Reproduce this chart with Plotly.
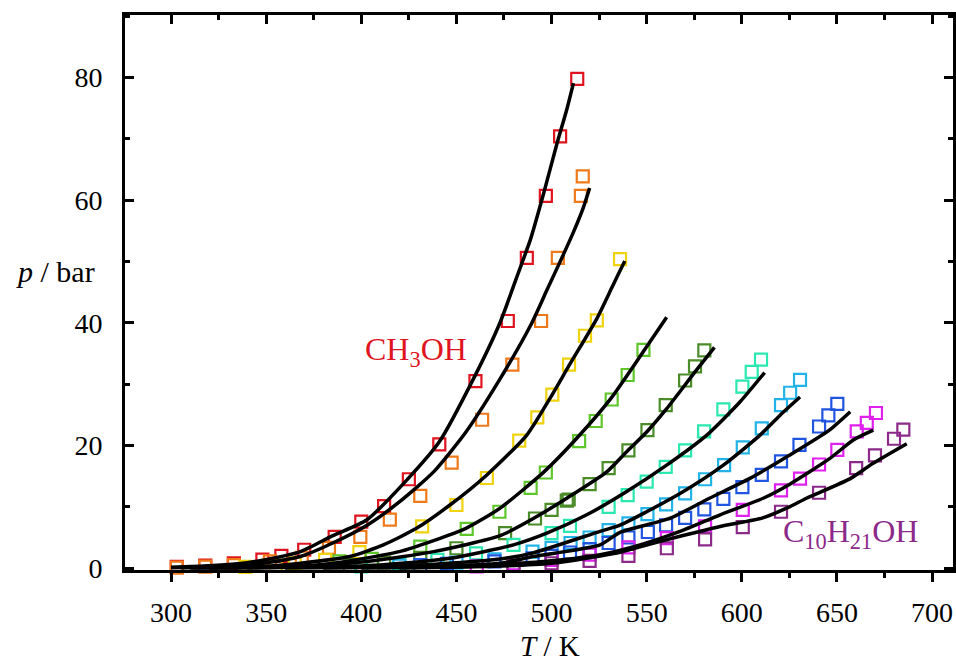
import plotly.graph_objects as go

# ---------------- data ----------------
names = ["CH3OH", "C2H5OH", "C3H7OH", "C4H9OH", "C5H11OH",
         "C6H13OH", "C7H15OH", "C8H17OH", "C9H19OH", "C10H21OH"]
colors = ["#e0141e", "#ee7a1a", "#f0d20f", "#5ec62a", "#4a8c28",
          "#2ae8b0", "#22b4e8", "#1f55e0", "#e020ec", "#8c2a8a"]

# experimental points
T_exp_1 = [303, 318, 333, 348, 358, 370, 386, 400, 412, 425, 441, 460, 477, 487, 497, 504.5, 513.5]
p_exp_1 = [0.2, 0.4, 0.8, 1.4, 2.0, 3.0, 5.1, 7.6, 10.1, 14.5, 20.2, 30.5, 40.3, 50.6, 60.7, 70.4, 79.8]
T_exp_2 = [303, 318, 333, 352, 368.7, 383, 399.5, 415, 431, 447.5, 463.5, 479.4, 494.5, 503.3, 515.4, 516.4]
p_exp_2 = [0.1, 0.25, 0.5, 1.1, 1.7, 3.3, 5.1, 7.9, 11.8, 17.2, 24.2, 33.2, 40.3, 50.6, 60.7, 63.9]
T_exp_3 = [339, 355, 365, 381, 399, 432, 450, 466, 483, 492.5, 500.4, 509.2, 517.6, 523.8, 536]
p_exp_3 = [0.2, 0.45, 0.8, 1.35, 2.6, 6.8, 10.3, 14.7, 20.8, 24.6, 28.3, 33.2, 37.9, 40.4, 50.4]
T_exp_4 = [388.5, 405.5, 431, 455.4, 472.6, 489, 497, 514.5, 523.2, 531.6, 540, 548.3]
p_exp_4 = [1.1, 1.5, 3.5, 6.4, 9.2, 13.1, 15.6, 20.7, 24.0, 27.5, 31.5, 35.6]
T_exp_5 = [394, 412, 431, 450, 475.6, 491.3, 500, 508, 509, 520, 530, 540.4, 550.4, 560, 570.2, 575.4, 580.3]
p_exp_5 = [0.5, 0.9, 1.7, 3.25, 5.7, 8.1, 9.5, 11.0, 11.2, 13.7, 16.3, 19.2, 22.5, 26.6, 30.6, 32.9, 35.5]
T_exp_6 = [400, 420, 440, 460.3, 480, 500, 509.7, 530, 540, 550, 560, 570.2, 580.2, 590.3, 600.3, 605.2, 610.1]
p_exp_6 = [0.3, 0.65, 1.35, 2.4, 3.8, 5.7, 6.9, 10.0, 11.9, 14.1, 16.5, 19.2, 22.3, 25.9, 29.6, 32.0, 34.0]
T_exp_7 = [420, 450, 470, 490, 500, 510, 520, 530, 540.4, 550.4, 560.2, 570.2, 580.7, 590.7, 600.5, 610.5, 620.6, 625.4, 630.6]
p_exp_7 = [0.4, 0.9, 1.45, 2.7, 3.3, 4.1, 5.0, 6.2, 7.3, 8.8, 10.4, 12.2, 14.5, 16.8, 19.7, 22.8, 26.6, 28.6, 30.7]
T_exp_8 = [431, 445, 470, 490, 500, 509.7, 520, 530, 540.4, 550.6, 560.2, 570.2, 580.3, 590.3, 600.3, 610.5, 620.6, 630.3, 640.6, 645.5, 650.2]
p_exp_8 = [0.5, 0.7, 1.1, 1.6, 2.0, 2.55, 3.1, 4.1, 5.0, 5.9, 7.0, 8.2, 9.6, 11.3, 13.2, 15.2, 17.4, 20.1, 23.1, 24.9, 26.8]
T_exp_9 = [460.7, 480, 500, 520, 540.4, 560.6, 580.7, 600.5, 620.6, 630.6, 640.6, 650.2, 660.4, 665.7, 670.5]
p_exp_9 = [0.3, 0.8, 1.35, 2.2, 3.4, 4.9, 6.8, 9.5, 12.7, 14.6, 16.9, 19.3, 22.3, 23.7, 25.3]
T_exp_10 = [480, 500, 520, 540.4, 560.6, 580.7, 600.5, 620.6, 640.6, 660.1, 670, 680, 684.9]
p_exp_10 = [0.4, 0.8, 1.2, 2.0, 3.25, 4.7, 6.7, 9.2, 12.3, 16.3, 18.4, 21.1, 22.6]

# model curves (black lines)
T_mod_1 = [300, 320, 340, 355, 368, 385, 403, 424, 441, 459, 473, 482, 489, 496, 503, 508, 511.5]
p_mod_1 = [0.15, 0.4, 0.9, 1.7, 2.7, 5.3, 7.9, 14.4, 20.6, 30.9, 40.1, 47.7, 53.7, 61.3, 69.4, 74.8, 79.1]
T_mod_2 = [300, 330, 350, 368, 385, 403, 420, 438, 455, 473, 489, 497.5, 506, 511.5, 516.7, 520]
p_mod_2 = [0.08, 0.4, 0.9, 1.9, 4.1, 7.0, 10.8, 15.7, 22.2, 30.9, 39.6, 45.3, 51.0, 54.8, 58.8, 62.0]
T_mod_3 = [305, 330, 350, 368, 394, 411.6, 429, 446.6, 466, 487, 499, 509.7, 523.8, 531, 535, 538.5]
p_mod_3 = [0.05, 0.1, 0.3, 0.8, 1.9, 3.8, 6.5, 10.3, 15.2, 21.7, 27.6, 33.3, 40.7, 45.3, 47.9, 50.1]
T_mod_4 = [310, 360, 385, 420, 455, 473, 496, 513, 531, 548, 560.5]
p_mod_4 = [0.03, 0.2, 0.8, 2.7, 6.5, 9.8, 15.7, 21.1, 27.6, 35.2, 40.9]
T_mod_5 = [320, 370, 403, 438, 473, 490.4, 508, 529, 539.5, 550, 560.5, 575.4, 585.6]
p_mod_5 = [0.03, 0.3, 1.1, 2.7, 5.3, 8.1, 11.4, 15.7, 19.0, 22.2, 26.0, 32.0, 36.0]
T_mod_6 = [340, 395, 411.6, 446.6, 480, 497.5, 518.5, 539.5, 560.5, 581.6, 599, 612]
p_mod_6 = [0.03, 0.3, 0.55, 1.6, 3.8, 5.7, 8.7, 12.5, 16.8, 21.7, 27.1, 31.9]
T_mod_7 = [360, 420, 473, 490.4, 525.5, 536, 550, 569.3, 590.3, 609.6, 620, 630.6]
p_mod_7 = [0.03, 0.3, 1.5, 2.5, 6.0, 7.0, 9.2, 12.5, 16.8, 21.7, 24.9, 27.9]
T_mod_8 = [380, 440, 473, 490.4, 525.5, 536, 562, 583, 604, 625, 646, 657]
p_mod_8 = [0.03, 0.3, 0.8, 1.9, 3.8, 5.85, 8.1, 11.4, 14.6, 18.4, 22.5, 25.5]
T_mod_9 = [400, 460, 473, 500, 525.5, 546.5, 567.5, 588.6, 611.2, 625.2, 646.3, 658.6, 669.1]
p_mod_9 = [0.03, 0.3, 0.55, 1.2, 2.2, 3.8, 6.0, 8.7, 11.4, 13.7, 17.9, 20.9, 22.5]
T_mod_10 = [420, 470, 500, 525.5, 536, 546.5, 567.5, 588.6, 611, 625, 634, 657, 669, 686.7]
p_mod_10 = [0.03, 0.3, 0.8, 2.0, 2.6, 3.5, 5.2, 6.8, 8.2, 10.0, 11.4, 14.6, 17.1, 20.3]

T_exp = [T_exp_1, T_exp_2, T_exp_3, T_exp_4, T_exp_5, T_exp_6, T_exp_7, T_exp_8, T_exp_9, T_exp_10]
p_exp = [p_exp_1, p_exp_2, p_exp_3, p_exp_4, p_exp_5, p_exp_6, p_exp_7, p_exp_8, p_exp_9, p_exp_10]
T_mod = [T_mod_1, T_mod_2, T_mod_3, T_mod_4, T_mod_5, T_mod_6, T_mod_7, T_mod_8, T_mod_9, T_mod_10]
p_mod = [p_mod_1, p_mod_2, p_mod_3, p_mod_4, p_mod_5, p_mod_6, p_mod_7, p_mod_8, p_mod_9, p_mod_10]

x_ticks = [300, 350, 400, 450, 500, 550, 600, 650, 700]
y_ticks = [0, 20, 40, 60, 80]

FONT = "Liberation Serif, Times New Roman, serif"

fig = go.Figure()
for i in range(10):
    fig.add_trace(go.Scatter(
        x=T_exp[i], y=p_exp[i], mode="markers", name=names[i],
        marker=dict(symbol="square-open", size=12, color=colors[i],
                    line=dict(width=2.2, color=colors[i])),
        showlegend=False, cliponaxis=False))
for i in range(10):
    fig.add_trace(go.Scatter(
        x=T_mod[i], y=p_mod[i], mode="lines",
        line=dict(color="black", width=3.5, shape="spline", smoothing=0.6),
        showlegend=False, hoverinfo="skip"))
# dummy trace to activate the top axis
fig.add_trace(go.Scatter(x=[300], y=[0], xaxis="x2", mode="markers",
                         marker=dict(opacity=0), showlegend=False, hoverinfo="skip"))

xr = [275.8, 711]
axis_common = dict(showgrid=False, zeroline=False, showline=True, linewidth=3, linecolor="black",
                   tickwidth=3, tickcolor="black")
fig.update_layout(
    width=956, height=662,
    margin=dict(l=125, r=3, t=15, b=92, autoexpand=False),
    paper_bgcolor="white", plot_bgcolor="white",
    font=dict(family=FONT, size=28, color="black"),
    xaxis=dict(range=xr, tickvals=x_ticks, ticks="outside", ticklen=9,
               minor=dict(ticks="outside", ticklen=5, tickwidth=3, dtick=25, tick0=300, tickcolor="black"),
               tickfont=dict(family=FONT, size=28), ticklabelstandoff=6, **axis_common),
    xaxis2=dict(range=xr, overlaying="x", side="top", tickvals=x_ticks, ticks="inside", ticklen=9,
                showticklabels=False,
                minor=dict(ticks="inside", ticklen=5, tickwidth=3, dtick=25, tick0=300, tickcolor="black"),
                **axis_common),
    yaxis=dict(range=[-0.3, 90.2], tickvals=y_ticks, ticks="inside", ticklen=9, mirror="ticks",
               minor=dict(ticks="inside", ticklen=5, tickwidth=3, dtick=10, tick0=0, tickcolor="black"),
               tickfont=dict(family=FONT, size=28), ticklabelstandoff=14, **axis_common),
)

fig.add_annotation(text="<i>p</i> / bar", xref="paper", yref="paper", x=-0.0845, y=0.537,
                   xanchor="center", yanchor="middle", showarrow=False,
                   font=dict(family=FONT, size=30, color="black"))
fig.add_annotation(text="<i>T</i> / K", xref="paper", yref="paper", x=0.513, y=-0.137,
                   xanchor="center", yanchor="middle", showarrow=False,
                   font=dict(family=FONT, size=29, color="black"))
fig.add_annotation(text="CH<sub>3</sub>OH", x=428.8, y=35.3, showarrow=False,
                   xanchor="center", yanchor="middle",
                   font=dict(family=FONT, size=32, color=colors[0]))
fig.add_annotation(text="C<sub>10</sub>H<sub>21</sub>OH", x=656.9, y=5.7, showarrow=False,
                   xanchor="center", yanchor="middle",
                   font=dict(family=FONT, size=32, color=colors[9]))

fig.write_html("out.html", config={"displayModeBar": False, "staticPlot": True},
               post_script="document.body.style.margin='0';document.body.style.overflow='hidden';"
                           "document.documentElement.style.overflow='hidden';")
